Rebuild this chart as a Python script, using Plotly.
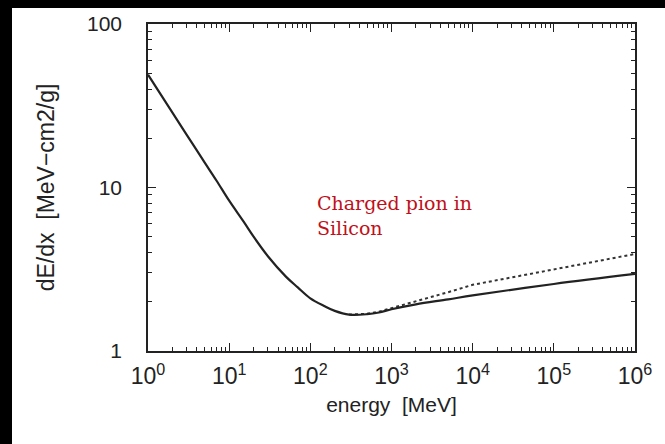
import plotly.graph_objects as go

# Data
energy_solid = [1, 2, 3, 5, 7, 10, 15, 20, 30, 50, 70, 100, 150, 200, 300, 500, 700,
                1000, 2000, 5000, 1e4, 1e5, 1e6]
dedx_solid = [49.0, 28.7, 21.0, 14.2, 11.0, 8.3, 6.2, 5.0, 3.8, 2.85, 2.45, 2.1, 1.88,
              1.76, 1.67, 1.68, 1.72, 1.80, 1.93, 2.07, 2.19, 2.57, 2.96]

energy_dotted = [300, 500, 700, 1000, 2000, 5000, 1e4, 1e5, 1e6]
dedx_dotted = [1.67, 1.69, 1.74, 1.83, 2.0, 2.29, 2.54, 3.16, 3.92]

x_tickvals = [1, 10, 100, 1000, 1e4, 1e5, 1e6]
x_ticktext = ["10<sup>0</sup>", "10<sup>1</sup>", "10<sup>2</sup>", "10<sup>3</sup>",
              "10<sup>4</sup>", "10<sup>5</sup>", "10<sup>6</sup>"]
y_tickvals = [1, 10, 100]
y_ticktext = ["1", "10", "100"]
x_minor = [m * 10 ** k for k in range(0, 6) for m in range(2, 10)]
y_minor = [m * 10 ** k for k in range(0, 2) for m in range(2, 10)]

W, H = 665, 444
L, R, T, B = 148, 30, 24, 93
pw, ph = W - L - R, H - T - B

fig = go.Figure()
fig.add_trace(go.Scatter(x=energy_dotted, y=dedx_dotted, mode="lines",
                         line=dict(color="#333", width=2, dash="dot"), showlegend=False))
fig.add_trace(go.Scatter(x=energy_solid, y=dedx_solid, mode="lines",
                         line=dict(color="#222", width=2.2, shape="spline"), showlegend=False))

sans = "Liberation Sans, Arial, sans-serif"
fig.update_xaxes(type="log", range=[0, 6], tickvals=x_tickvals, ticktext=x_ticktext,
                 ticks="inside", ticklen=8, tickwidth=1.2, tickcolor="#222",
                 minor=dict(tickvals=x_minor, ticks="inside", ticklen=4, tickcolor="#222",
                            showgrid=False),
                 showline=True, linecolor="#222", linewidth=1.5, mirror="ticks",
                 showgrid=False, zeroline=False, ticklabelstandoff=4,
                 tickfont=dict(size=23, color="#222", family=sans),
                 title=dict(text="energy  [MeV]", font=dict(family=sans, size=21, color="#222"),
                            standoff=9))
fig.update_yaxes(type="log", range=[0, 2], tickvals=y_tickvals, ticktext=y_ticktext,
                 ticks="inside", ticklen=8, tickwidth=1.2, tickcolor="#222",
                 minor=dict(tickvals=y_minor, ticks="inside", ticklen=4, tickcolor="#222",
                            showgrid=False),
                 showline=True, linecolor="#222", linewidth=1.5, mirror="ticks",
                 showgrid=False, zeroline=False, ticklabelstandoff=20,
                 tickfont=dict(size=21, color="#222", family=sans),
                 title=dict(text="dE/dx  [MeV\u2212cm2/g]",
                            font=dict(family=sans, size=23, color="#222"), standoff=26))

fig.add_annotation(text="Charged pion in<br>Silicon", xref="paper", yref="paper",
                   x=(315 - L) / pw, y=(H - B - 190) / ph, xanchor="left", yanchor="top",
                   align="left", showarrow=False,
                   font=dict(family="DejaVu Serif, serif", size=19, color="#c0101a"))

# black scan borders on top and left
fig.add_shape(type="rect", xref="paper", yref="paper", layer="above",
              x0=-L / pw, x1=(W - L) / pw, y0=(H - B - 8) / ph, y1=(H - B) / ph,
              fillcolor="black", line=dict(width=0))
fig.add_shape(type="rect", xref="paper", yref="paper", layer="above",
              x0=-L / pw, x1=(12 - L) / pw, y0=-B / ph, y1=(H - B) / ph,
              fillcolor="black", line=dict(width=0))

fig.update_layout(width=W, height=H, margin=dict(l=L, r=R, t=T, b=B),
                  paper_bgcolor="white", plot_bgcolor="white")
fig.write_html("out.html")
